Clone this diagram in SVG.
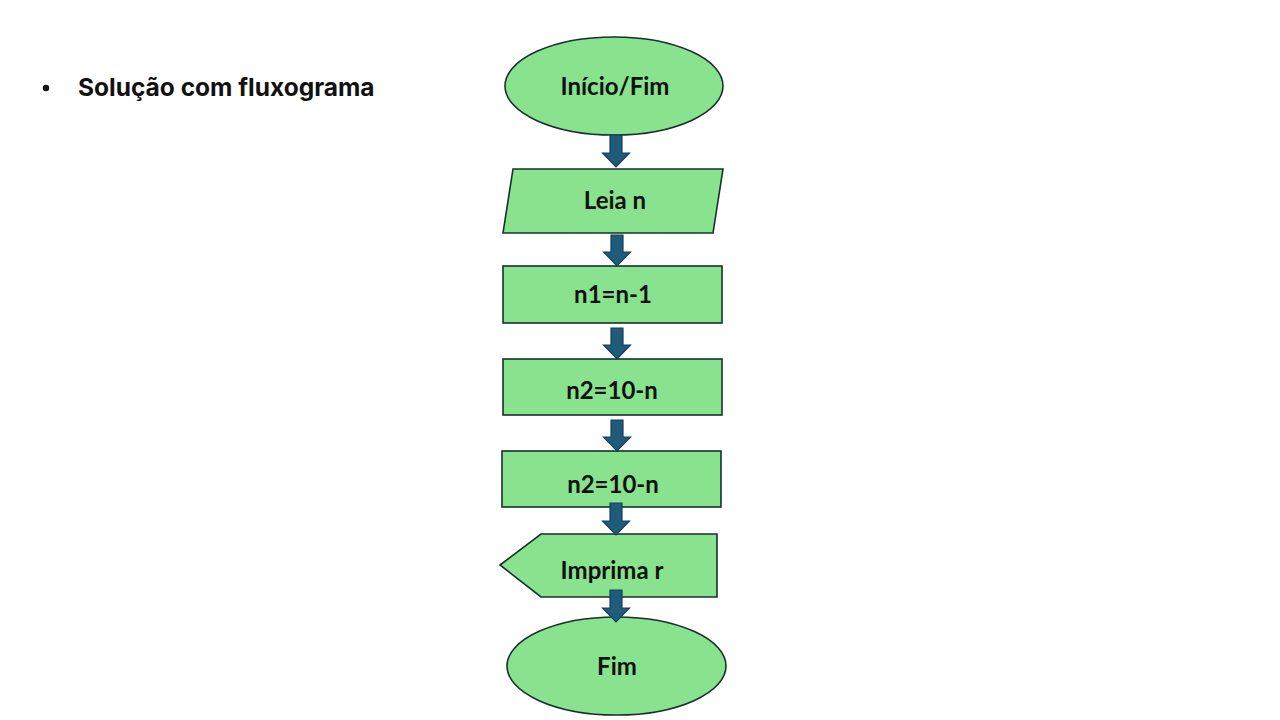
<svg xmlns="http://www.w3.org/2000/svg" width="1280" height="720" viewBox="0 0 1280 720">
<style>
.node{fill:#88E28E;stroke:#17302E;stroke-width:1.6}
.lbl{font-family:Lato,"Open Sans","Liberation Sans",sans-serif;font-weight:bold;font-size:24px;fill:#111;text-anchor:middle}
.title{font-family:Inter,Roboto,"Liberation Sans",sans-serif;font-weight:bold;font-size:24.5px;fill:#111}
.arr{fill:#1F5C7C;stroke:#163F57;stroke-width:1.2}
</style>
<rect width="1280" height="720" fill="#fff"/>
<g id="title">
<circle cx="46" cy="88" r="3.2" fill="#111"/>
<text class="title" x="78" y="96">Solução com fluxograma</text>
</g>
<g id="inicio">
<ellipse class="node" cx="614" cy="86" rx="109" ry="49"/>
<text class="lbl" x="615" y="95">Início/Fim</text>
</g>
<g id="leia">
<polygon class="node" points="513,169 723,169 713,233 503,233"/>
<text class="lbl" x="615" y="209">Leia n</text>
</g>
<g id="n1">
<rect class="node" x="503" y="266" width="219" height="57"/>
<text class="lbl" x="613" y="303">n1=n-1</text>
</g>
<g id="n2a">
<rect class="node" x="503" y="359" width="219" height="56"/>
<text class="lbl" x="612" y="399">n2=10-n</text>
</g>
<g id="n2b">
<rect class="node" x="502" y="451" width="219" height="56"/>
<text class="lbl" x="613" y="493">n2=10-n</text>
</g>
<g id="imprima">
<polygon class="node" points="500,565 541,534 717,534 717,597 541,597"/>
<text class="lbl" x="612" y="579">Imprima r</text>
</g>
<g id="fim">
<ellipse class="node" cx="616.5" cy="666" rx="109.5" ry="49"/>
<text class="lbl" x="617" y="675">Fim</text>
</g>
<g id="connectors">
<path class="arr" d="M610,135 H622 V153 H629.5 L616,167 L602.5,153 H610 Z"/>
<path class="arr" d="M611,235 H623 V252 H630.5 L617,266 L603.5,252 H611 Z"/>
<path class="arr" d="M611,328 H623 V345 H630.5 L617,359 L603.5,345 H611 Z"/>
<path class="arr" d="M611,420 H623 V437 H630.5 L617,451 L603.5,437 H611 Z"/>
<path class="arr" d="M610,503 H622 V521 H629.5 L616,535 L602.5,521 H610 Z"/>
<path class="arr" d="M610,590 H622 V608 H629.5 L616,622 L602.5,608 H610 Z"/>
</g>
</svg>
